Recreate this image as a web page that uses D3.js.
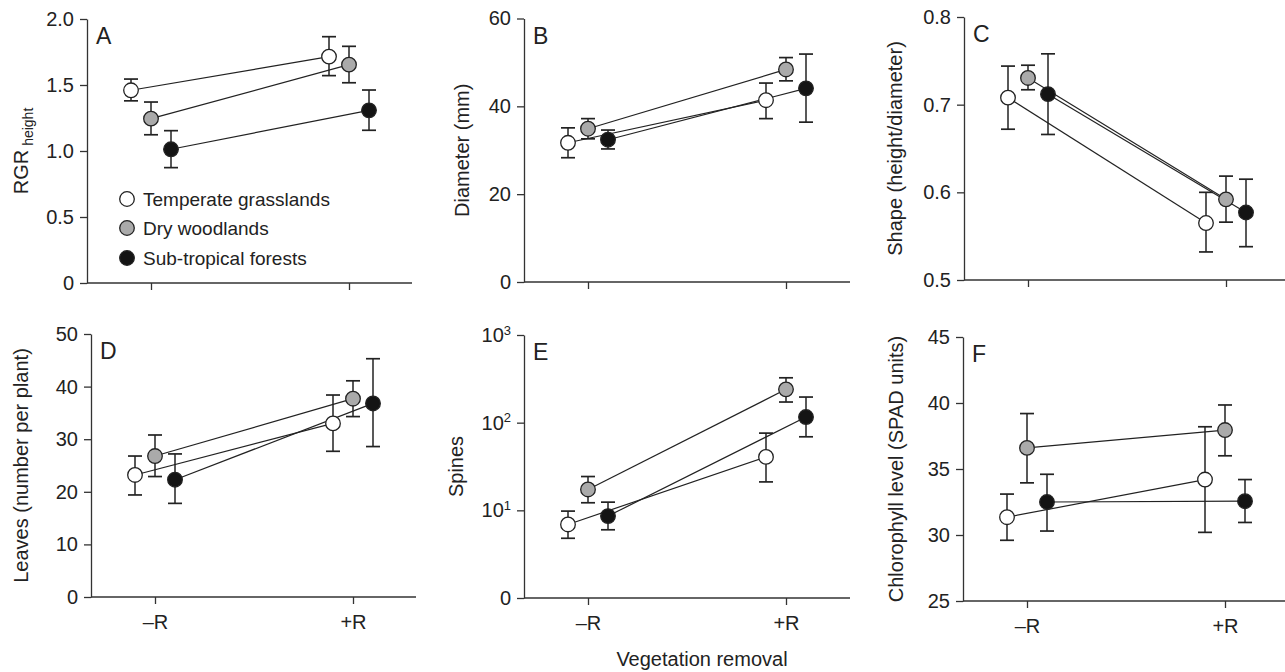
<!DOCTYPE html>
<html><head><meta charset="utf-8">
<script src="https://cdn.jsdelivr.net/npm/d3@7"></script>
<style>
body{margin:0;background:#fff;}
svg text{font-family:"Liberation Sans",Arial,Helvetica,sans-serif;fill:#222;}
</style></head>
<body><svg id="c" width="1285" height="672"></svg>
<script>
// ---- data ----
const groups = ["\u2013R", "+R"];
const series = ["Temperate grasslands", "Dry woodlands", "Sub-tropical forests"];
const seriesFill = ["#ffffff", "#aaaaaa", "#141414"];

// A: RGR height  (rows = series, cols = groups)
const rgrMean = [[1.46, 1.715], [1.245, 1.654], [1.013, 1.308]];
const rgrLow  = [[1.38, 1.571], [1.123, 1.517], [0.874, 1.157]];
const rgrHigh = [[1.545, 1.866], [1.371, 1.793], [1.154, 1.462]];
const rgrTicks = [0, 0.5, 1.0, 1.5, 2.0];

// B: Diameter (mm)
const diaMean = [[31.7, 41.4], [34.9, 48.4], [32.4, 44.1]];
const diaLow  = [[28.3, 37.2], [32.6, 45.8], [30.3, 36.4]];
const diaHigh = [[35.1, 45.3], [37.2, 51.1], [34.6, 51.9]];
const diaTicks = [0, 20, 40, 60];

// C: Shape (height/diameter)
const shpMean = [[0.708, 0.565], [0.7305, 0.592], [0.712, 0.577]];
const shpLow  = [[0.672, 0.532], [0.717, 0.566], [0.666, 0.538]];
const shpHigh = [[0.744, 0.600], [0.745, 0.6185], [0.758, 0.615]];
const shpTicks = [0.5, 0.6, 0.7, 0.8];

// D: Leaves (number per plant)
const lvsMean = [[23.2, 33.0], [26.8, 37.7], [22.3, 36.8]];
const lvsLow  = [[19.4, 27.7], [22.9, 34.3], [17.8, 28.6]];
const lvsHigh = [[26.8, 38.4], [30.8, 41.1], [27.2, 45.3]];
const lvsTicks = [0, 10, 20, 30, 40, 50];

// E: Spines (log axis, bottom labelled 0)
const spnMean = [[6.9, 40.7], [17.3, 240], [8.6, 116]];
const spnLow  = [[4.8, 21.1], [12.2, 172], [6.0, 69]];
const spnHigh = [[9.8, 76], [24.3, 325], [12.4, 196]];
const spnTicks = [1, 10, 100, 1000];

// F: Chlorophyll level (SPAD units)
const chlMean = [[31.35, 34.2], [36.6, 37.95], [32.5, 32.56]];
const chlLow  = [[29.6, 30.2], [33.95, 36.0], [30.3, 30.95]];
const chlHigh = [[33.1, 38.2], [39.2, 39.85], [34.6, 34.2]];
const chlTicks = [25, 30, 35, 40, 45];

// ---- layout ----
const panels = [
  {id:"A", mean:rgrMean, low:rgrLow, high:rgrHigh, ticks:rgrTicks, dom:[0,2], fmt:d=>d===0?"0":d3.format(".1f")(d),
   left:87, top:19, bottom:283, right:412, labX:28, xlabels:false, legend:true},
  {id:"B", mean:diaMean, low:diaLow, high:diaHigh, ticks:diaTicks, dom:[0,60], fmt:d3.format("d"),
   left:524, top:18.5, bottom:282, right:850, labX:469, label:"Diameter (mm)", xlabels:false},
  {id:"C", mean:shpMean, low:shpLow, high:shpHigh, ticks:shpTicks, dom:[0.5,0.8], fmt:d3.format(".1f"),
   left:964, top:17, bottom:280, right:1285, labX:902, label:"Shape (height/diameter)", xlabels:false},
  {id:"D", mean:lvsMean, low:lvsLow, high:lvsHigh, ticks:lvsTicks, dom:[0,50], fmt:d3.format("d"),
   left:91, top:334, bottom:597, right:416, labX:28, label:"Leaves (number per plant)", xlabels:true},
  {id:"E", mean:spnMean, low:spnLow, high:spnHigh, ticks:spnTicks, dom:[1,1000], log:true,
   left:524, top:335, bottom:598, right:850, labX:463, label:"Spines", xlabels:true},
  {id:"F", mean:chlMean, low:chlLow, high:chlHigh, ticks:chlTicks, dom:[25,45], fmt:d3.format("d"),
   left:963, top:337, bottom:601, right:1285, labX:903, label:"Chlorophyll level (SPAD units)", xlabels:true}
];

const svg = d3.select("#c");
const offsets = [-20, 0, 20];
const axisColor = "#333";
const fs = 20;

panels.forEach(p => {
  const g = svg.append("g");
  const y = (p.log ? d3.scaleLog() : d3.scaleLinear()).domain(p.dom).range([p.bottom, p.top]);
  const x = d3.scalePoint().domain(groups).range([p.left + 64, p.left + 262]);

  // y axis
  const ya = d3.axisLeft(y).tickValues(p.ticks).tickSize(7).tickPadding(6).tickSizeOuter(0);
  if (!p.log) ya.tickFormat(p.fmt); else ya.tickFormat(() => "");
  const yg = g.append("g").attr("transform", `translate(${p.left},0)`).call(ya);
  yg.selectAll("path,line").attr("stroke", axisColor).attr("stroke-width", 1.3);
  yg.selectAll("text").attr("font-size", fs).attr("fill", "#222").style("font-family", '"Liberation Sans",Arial,sans-serif');
  if (p.log) {
    yg.selectAll(".tick text").each(function(d) {
      const t = d3.select(this);
      if (d === 1) { t.text("0"); }
      else {
        t.text("10");
        t.append("tspan").attr("dy", "-0.55em").attr("font-size", 13).text(String(Math.round(Math.log10(d))));
      }
    });
  }

  // x axis
  g.append("line").attr("x1", p.left).attr("x2", p.right).attr("y1", p.bottom).attr("y2", p.bottom)
    .attr("stroke", axisColor).attr("stroke-width", 1.3);
  const xa = d3.axisBottom(x).tickSize(7).tickPadding(11).tickSizeOuter(0);
  if (!p.xlabels) xa.tickFormat(() => "");
  const xg = g.append("g").attr("transform", `translate(0,${p.bottom})`).call(xa);
  xg.select(".domain").remove();
  xg.selectAll("line").attr("stroke", axisColor).attr("stroke-width", 1.3);
  xg.selectAll("text").attr("font-size", fs).attr("fill", "#222").style("font-family", '"Liberation Sans",Arial,sans-serif');

  // y label
  const cy = (p.top + p.bottom) / 2;
  if (p.id === "A") {
    const t = g.append("text").attr("transform", `translate(${p.labX},${cy}) rotate(-90)`)
      .attr("text-anchor", "middle").attr("font-size", fs);
    t.append("tspan").text("RGR");
    t.append("tspan").attr("dx", 4).attr("dy", 5).attr("font-size", 14).text("height");
  } else {
    g.append("text").attr("transform", `translate(${p.labX},${cy}) rotate(-90)`)
      .attr("text-anchor", "middle").attr("font-size", fs).text(p.label);
  }

  // panel letter
  g.append("text").attr("x", p.left + 9).attr("y", p.top + 25).attr("font-size", 23).text(p.id);

  // connecting lines
  series.forEach((s, i) => {
    g.append("line")
      .attr("x1", x(groups[0]) + offsets[i]).attr("y1", y(p.mean[i][0]))
      .attr("x2", x(groups[1]) + offsets[i]).attr("y2", y(p.mean[i][1]))
      .attr("stroke", "#222").attr("stroke-width", 1.2);
  });
  // error bars
  series.forEach((s, i) => {
    groups.forEach((gr, j) => {
      const cx = x(gr) + offsets[i];
      const lo = y(p.low[i][j]), hi = y(p.high[i][j]);
      g.append("line").attr("x1", cx).attr("x2", cx).attr("y1", lo).attr("y2", hi)
        .attr("stroke", "#222").attr("stroke-width", 1.5);
      [lo, hi].forEach(v => g.append("line").attr("x1", cx - 7).attr("x2", cx + 7).attr("y1", v).attr("y2", v)
        .attr("stroke", "#222").attr("stroke-width", 1.7));
    });
  });
  // markers
  series.forEach((s, i) => {
    groups.forEach((gr, j) => {
      g.append("circle").attr("cx", x(gr) + offsets[i]).attr("cy", y(p.mean[i][j])).attr("r", 7.3)
        .attr("fill", seriesFill[i]).attr("stroke", "#222").attr("stroke-width", 1.3);
    });
  });

  // legend
  if (p.legend) {
    const ly = [199, 228, 258];
    series.forEach((s, i) => {
      g.append("circle").attr("cx", 127).attr("cy", ly[i]).attr("r", 7.3)
        .attr("fill", seriesFill[i]).attr("stroke", "#222").attr("stroke-width", 1.3);
      g.append("text").attr("x", 143).attr("y", ly[i] + 6.5).attr("font-size", 19).text(s);
    });
  }
});

// shared x label
svg.append("text").attr("x", 702).attr("y", 666).attr("text-anchor", "middle").attr("font-size", fs).text("Vegetation removal");
</script></body></html>
